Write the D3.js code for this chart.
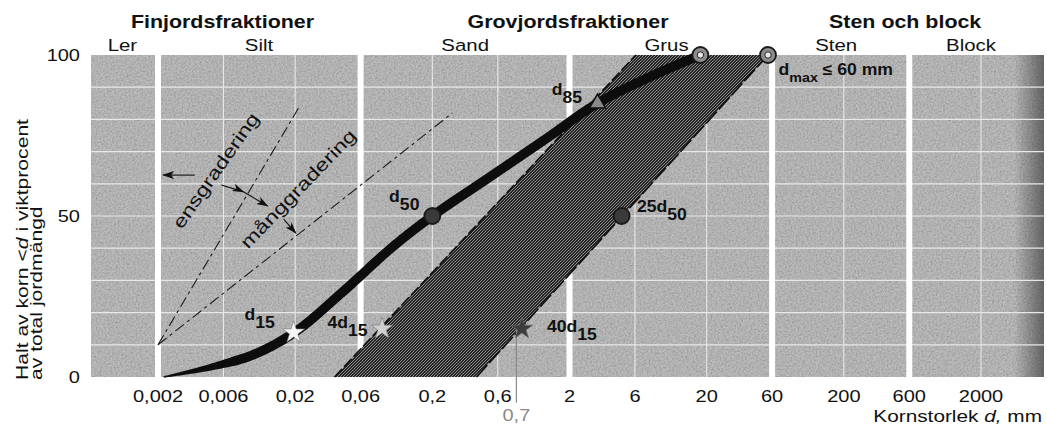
<!DOCTYPE html>
<html>
<head>
<meta charset="utf-8">
<script src="https://cdn.jsdelivr.net/npm/d3@7"></script>
<style>
body { margin: 0; background: #fff; }
svg { display: block; font-family: "Liberation Sans", Arial, sans-serif; }
</style>
</head>
<body>
<script>
// axis ticks (grain size d, mm) and fraction limits
var tickValues = [0.002, 0.006, 0.02, 0.06, 0.2, 0.6, 2, 6, 20, 60, 200, 600, 2000];
var tickLabels = ["0,002", "0,006", "0,02", "0,06", "0,2", "0,6", "2", "6", "20", "60", "200", "600", "2000"];
var fractionLimits = [0.002, 0.06, 2, 60, 600];
var gridX = [0.006, 0.02, 0.2, 0.6, 6, 20, 200, 2000];
var gridY = [10, 20, 30, 40, 50, 60, 70, 80, 90];
var yTicks = [0, 50, 100];

var mainGroups = ["Finjordsfraktioner", "Grovjordsfraktioner", "Sten och block"];
var mainGroupAt = [0.0059, 1.95, 560];
var subGroups = ["Ler", "Silt", "Sand", "Grus", "Sten", "Block"];
var subGroupAt = [0.0011, 0.0109, 0.347, 10.2, 176, 1690];

// grading curve [d mm, % passing]
var gradingCurve = [[0.0022, 0], [0.005, 3.2], [0.01, 7], [0.02, 14], [0.046, 27], [0.1, 40],
    [0.2, 50], [0.5, 61.5], [1.35, 74], [3.2, 85], [8, 93.5], [18, 100]];

// filter band limits
var bandLeft = [[0.0387, 0], [6.1, 100]];
var bandRight = [[0.42, 0], [56, 100]];

// ens-/månggradering fan
var fanSteep = [[0.002, 10], [0.0215, 84]];
var fanShallow = [[0.002, 10], [0.28, 82]];
var arrowLeft = [[0.0037, 62.7], [0.00218, 62.7]];
var arrowCross = [[0.0058, 59.6], [0.0084, 57.5], [0.0126, 53.1]];
var arrowDown = [[0.0165, 49], [0.0202, 44.7]];

var circles = [{d: 0.2, p: 50, ring: false}, {d: 4.8, p: 50, ring: false}, {d: 18, p: 100, ring: true}, {d: 56, p: 100, ring: true}];
var stars = [{d: 0.0195, p: 13.8, fill: "#f6f6f6"}, {d: 0.086, p: 15, fill: "#d0d0d0"}, {d: 0.9, p: 15, fill: "#3c3c3c"}];
var triangle = {d: 3.2, p: 85};

var markerLabels = [
    {pre: "d", sub: "85", d: 2.47, p: 87.6, anchor: "end"},
    {pre: "d", sub: "50", d: 0.161, p: 54.3, anchor: "end"},
    {pre: "25d", sub: "50", d: 6.2, p: 51.2, anchor: "start"},
    {pre: "d", sub: "15", d: 0.0142, p: 17.7, anchor: "end"},
    {pre: "4d", sub: "15", d: 0.0344, p: 15.2, anchor: "start"},
    {pre: "40d", sub: "15", d: 1.37, p: 14, anchor: "start"}
];
var refLine = {d: 0.82, top: 15, bottom: -8, label: "0,7"};

var W = 1047, H = 433;
var plotLeft = 91, plotRight = 1044;

var x = d3.scaleLog().domain([0.002, 2000]).range([158, 981]);
var y = d3.scaleLinear().domain([0, 100]).range([377, 55]);

var svg = d3.select("body").append("svg").attr("width", W).attr("height", H);
var defs = svg.append("defs");

// paper grain
var grain = defs.append("filter").attr("id", "grain").attr("x", 0).attr("y", 0).attr("width", "100%").attr("height", "100%");
grain.append("feTurbulence").attr("type", "fractalNoise").attr("baseFrequency", 0.55).attr("numOctaves", 2).attr("seed", 4);
grain.append("feColorMatrix").attr("type", "matrix").attr("values", "1 0 0 0 0  1 0 0 0 0  1 0 0 0 0  0 0 0 0 0.34");

var hatch = defs.append("pattern").attr("id", "hatch").attr("patternUnits", "userSpaceOnUse").attr("width", 3).attr("height", 3);
hatch.append("rect").attr("width", 3).attr("height", 3).attr("fill", "#262626");
hatch.append("path").attr("d", "M-0.75,0.75 L0.75,-0.75 M0,3 L3,0 M2.25,3.75 L3.75,2.25")
    .attr("stroke", "#ababab").attr("stroke-width", 0.75);

var edge = defs.append("linearGradient").attr("id", "edge");
edge.append("stop").attr("offset", "0").attr("stop-color", "#222").attr("stop-opacity", 0);
edge.append("stop").attr("offset", "1").attr("stop-color", "#222").attr("stop-opacity", 0.55);

defs.append("clipPath").attr("id", "plot").append("rect")
    .attr("x", plotLeft).attr("y", y(100)).attr("width", plotRight - plotLeft).attr("height", y(0) - y(100));

defs.append("marker").attr("id", "head").attr("viewBox", "0 0 12 8")
    .attr("refX", 11).attr("refY", 4).attr("markerUnits", "userSpaceOnUse")
    .attr("markerWidth", 15).attr("markerHeight", 8).attr("orient", "auto")
  .append("path").attr("d", "M0,0 L12,4 L0,8 L3,4 z").attr("fill", "#111");

// background
svg.append("rect").attr("x", plotLeft).attr("y", y(100)).attr("width", plotRight - plotLeft)
    .attr("height", y(0) - y(100)).attr("fill", "#acacac");
svg.append("rect").attr("x", plotLeft).attr("y", y(100)).attr("width", plotRight - plotLeft)
    .attr("height", y(0) - y(100)).attr("filter", "url(#grain)");
svg.append("rect").attr("x", plotRight - 30).attr("y", y(100)).attr("width", 30)
    .attr("height", y(0) - y(100)).attr("fill", "url(#edge)");

// grid
svg.selectAll(".gx").data(gridX).enter().append("line")
    .attr("x1", d => x(d)).attr("x2", d => x(d)).attr("y1", y(100)).attr("y2", y(0))
    .attr("stroke", "#e8e8e8").attr("stroke-width", 1.1);
svg.selectAll(".gy").data(gridY).enter().append("line")
    .attr("x1", plotLeft).attr("x2", plotRight).attr("y1", d => y(d)).attr("y2", d => y(d))
    .attr("stroke", "#e8e8e8").attr("stroke-width", 1.2);
svg.selectAll(".gap").data(fractionLimits).enter().append("rect")
    .attr("x", d => x(d) - 3).attr("width", 6).attr("y", y(100) - 1).attr("height", y(0) - y(100) + 2)
    .attr("fill", "#fff");

var line = d3.line().x(d => x(d[0])).y(d => y(d[1]));

// filter band
svg.append("path")
    .attr("d", line([bandLeft[0], bandLeft[1], bandRight[1], bandRight[0]]) + "Z")
    .attr("clip-path", "url(#plot)").attr("fill", "url(#hatch)");
svg.append("path").attr("d", line(bandLeft)).attr("stroke", "#111").attr("stroke-width", 1.7)
    .attr("stroke-dasharray", "11,3").attr("fill", "none");
svg.append("path").attr("d", line(bandRight)).attr("stroke", "#111").attr("stroke-width", 1.7)
    .attr("stroke-dasharray", "16,3").attr("fill", "none");

// fan lines and arrows
[fanSteep, fanShallow].forEach(function(f) {
    svg.append("path").attr("d", line(f)).attr("stroke", "#1a1a1a").attr("stroke-width", 1.1)
        .attr("stroke-dasharray", "11,4,3,4").attr("fill", "none");
});
[arrowLeft, arrowCross, arrowDown].forEach(function(a) {
    svg.append("path").attr("d", line(a)).attr("stroke", "#111").attr("stroke-width", 1.1)
        .attr("fill", "none").attr("marker-end", "url(#head)")
        .attr("marker-mid", a.length > 2 ? "url(#head)" : null);
});

// 0,7 reference
svg.append("line").attr("x1", x(refLine.d)).attr("x2", x(refLine.d))
    .attr("y1", y(refLine.top)).attr("y2", y(refLine.bottom))
    .attr("stroke", "#8a8a8a").attr("stroke-width", 1.2);

// grading curve, tapered at its fine end
var smooth = d3.line().x(d => x(d[0])).y(d => y(d[1])).curve(d3.curveCatmullRom.alpha(0.5));
var guide = svg.append("path").attr("d", smooth(gradingCurve)).attr("fill", "none");
var node = guide.node(), total = node.getTotalLength();
var sideA = [], sideB = [];
for (var s = 0; s <= total; s += 1.5) {
    var p0 = node.getPointAtLength(Math.max(0, s - 1)), p1 = node.getPointAtLength(Math.min(total, s + 1));
    var p = node.getPointAtLength(s);
    var dx = p1.x - p0.x, dy = p1.y - p0.y, len = Math.sqrt(dx * dx + dy * dy) || 1;
    var w = (1.5 + 8 * Math.min(1, s / 75)) / 2;
    sideA.push([p.x - dy / len * w, p.y + dx / len * w]);
    sideB.push([p.x + dy / len * w, p.y - dx / len * w]);
}
guide.remove();
svg.append("path").attr("d", d3.line()(sideA.concat(sideB.reverse())) + "Z").attr("fill", "#0d0d0d");

// markers
svg.selectAll(".circ").data(circles).enter().append("circle")
    .attr("cx", d => x(d.d)).attr("cy", d => y(d.p)).attr("r", 8)
    .attr("fill", d => d.ring ? "#8c8c8c" : "#3a3a3a").attr("stroke", "#1a1a1a").attr("stroke-width", 1.8);
svg.selectAll(".ring").data(circles.filter(d => d.ring)).enter().append("circle")
    .attr("cx", d => x(d.d)).attr("cy", d => y(d.p)).attr("r", 3.2)
    .attr("fill", "#e8e8e8").attr("stroke", "#222").attr("stroke-width", 1);
svg.selectAll(".star").data(stars).enter().append("path")
    .attr("transform", d => "translate(" + x(d.d) + "," + y(d.p) + ")")
    .attr("d", d3.symbol(d3.symbolStar, 150))
    .attr("fill", d => d.fill).attr("stroke", "#777").attr("stroke-width", 0.6);
svg.append("path").attr("transform", "translate(" + x(triangle.d) + "," + y(triangle.p) + ")")
    .attr("d", d3.symbol(d3.symbolTriangle, 110)).attr("fill", "#8a8a8a").attr("stroke", "#111").attr("stroke-width", 1.5);

// text helper: the printed face is wide, so stretch along the baseline
function addText(px, py, angle, stretch, anchor, size, weight, fill) {
    return svg.append("text")
        .attr("transform", "translate(" + px + "," + py + ") rotate(" + angle + ") scale(" + stretch + ",1)")
        .attr("text-anchor", anchor).style("font-size", size + "px")
        .style("font-weight", weight || "normal").attr("fill", fill || "#111");
}

mainGroups.forEach(function(t, i) { addText(x(mainGroupAt[i]), 28, 0, 1.19, "middle", 18, "bold").text(t); });
subGroups.forEach(function(t, i) { addText(x(subGroupAt[i]), 51, 0, 1.2, "middle", 17).text(t); });

tickValues.forEach(function(v, i) { addText(x(v), 402, 0, 1.25, "middle", 16).text(tickLabels[i]); });
yTicks.forEach(function(v) { addText(80, y(v) + 6, 0, 1.25, "end", 16).text(v); });

addText(x(refLine.d), 421, 0, 1.25, "middle", 16, "normal", "#8a8a8a").text(refLine.label);

var xt = addText(1042, 422, 0, 1.3, "end", 16);
xt.append("tspan").text("Kornstorlek ");
xt.append("tspan").style("font-style", "italic").text("d,");
xt.append("tspan").text(" mm");

var yt1 = addText(28, 380, -90, 1.32, "start", 16);
yt1.append("tspan").text("Halt av korn <");
yt1.append("tspan").style("font-style", "italic").text("d");
yt1.append("tspan").text(" i viktprocent");
addText(42, 380, -90, 1.32, "start", 16).text("av total jordmängd");

addText(x(0.00574), y(63), -55, 1.3, "middle", 18).text("ensgradering");
addText(x(0.0227), y(57.1), -46, 1.3, "middle", 18).text("månggradering");

markerLabels.forEach(function(m) {
    var t = addText(x(m.d), y(m.p), 0, 1.1, m.anchor, 16, "bold");
    t.append("tspan").text(m.pre);
    t.append("tspan").attr("dy", 8).text(m.sub);
});

var dm = addText(x(66.8), y(93.8), 0, 1.1, "start", 16, "bold");
dm.append("tspan").text("d");
dm.append("tspan").attr("dy", 7).style("font-size", "13px").text("max");
dm.append("tspan").attr("dy", -7).text(" ≤ 60 mm");
</script>
</body>
</html>
